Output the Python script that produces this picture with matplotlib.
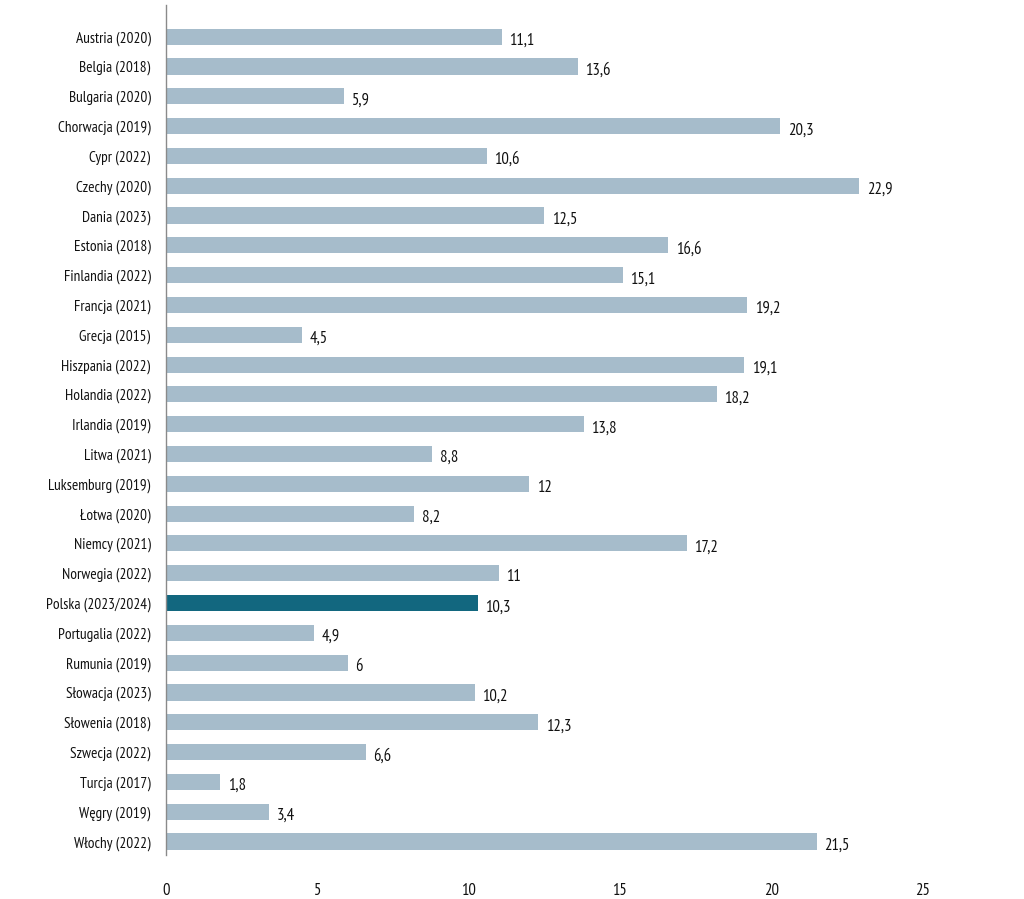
import matplotlib.pyplot as plt

countries = ['Austria (2020)', 'Belgia (2018)', 'Bulgaria (2020)', 'Chorwacja (2019)',
             'Cypr (2022)', 'Czechy (2020)', 'Dania (2023)', 'Estonia (2018)',
             'Finlandia (2022)', 'Francja (2021)', 'Grecja (2015)', 'Hiszpania (2022)',
             'Holandia (2022)', 'Irlandia (2019)', 'Litwa (2021)', 'Luksemburg (2019)',
             'Łotwa (2020)', 'Niemcy (2021)', 'Norwegia (2022)', 'Polska (2023/2024)',
             'Portugalia (2022)', 'Rumunia (2019)', 'Słowacja (2023)', 'Słowenia (2018)',
             'Szwecja (2022)', 'Turcja (2017)', 'Węgry (2019)', 'Włochy (2022)']
values = [11.1, 13.6, 5.9, 20.3, 10.6, 22.9, 12.5, 16.6, 15.1, 19.2, 4.5, 19.1,
          18.2, 13.8, 8.8, 12, 8.2, 17.2, 11, 10.3, 4.9, 6, 10.2, 12.3, 6.6, 1.8,
          3.4, 21.5]
highlight = 'Polska (2023/2024)'
xticks = [0, 5, 10, 15, 20, 25]

# czcionka zwężona
plt.rcParams['font.family'] = ['PT Sans Narrow', 'DejaVu Sans']

light = '#a6bccb'
dark = '#12677f'
colors = [dark if c == highlight else light for c in countries]

fig = plt.figure(figsize=(10.24, 8.99), dpi=100)
ax = fig.add_axes([0.162, 0.049, 0.739, 0.945])

y = range(len(countries))
ax.barh(y, values, height=0.54, color=colors)

for i, v in enumerate(values):
    txt = f'{v:g}'.replace('.', ',')
    ax.text(v + 0.25, i + 0.14, txt, va='center', ha='left', fontsize=12,
            color='#111111')

ax.set_yticks(list(y))
ax.set_yticklabels(countries, fontsize=11)
ax.set_ylim(len(countries) - 0.55, -1.05)
ax.set_xlim(0, 25)
ax.set_xticks(xticks)
ax.set_xticklabels([str(t) for t in xticks], fontsize=12)
ax.tick_params(axis='both', length=0, colors='#111111')
ax.tick_params(axis='x', pad=20)
ax.tick_params(axis='y', pad=11)

for s in ['top', 'right', 'bottom']:
    ax.spines[s].set_visible(False)
ax.spines['left'].set_color('#8a8a8a')
ax.spines['left'].set_linewidth(1)

fig.savefig('out.png', dpi=100)
